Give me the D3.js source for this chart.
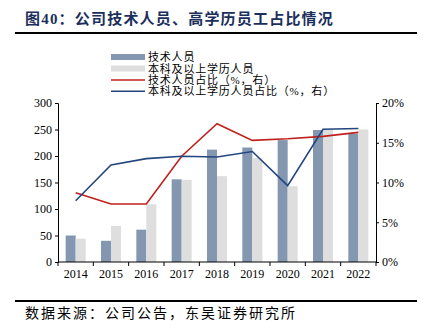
<!DOCTYPE html>
<html><head><meta charset="utf-8">
<script src="https://cdn.jsdelivr.net/npm/d3@7"></script>
<style>body{margin:0;background:#fff}svg{display:block}</style>
</head><body>
<svg id="c" width="424" height="335"></svg>
<script>
const years = ["2014","2015","2016","2017","2018","2019","2020","2021","2022"];
const techStaff = [50, 40, 61, 156, 212, 216, 230, 249, 242];
const bachelorStaff = [44, 68, 109, 155, 162, 196, 143, 250, 250];
const techShare = [8.7, 7.3, 7.3, 13.3, 17.4, 15.3, 15.5, 15.8, 16.3];
const bachelorShare = [7.7, 12.2, 13.0, 13.3, 13.2, 13.9, 9.6, 16.7, 16.8];
const leftTicks = [0, 50, 100, 150, 200, 250, 300];
const rightTicks = [0, 5, 10, 15, 20];
const legendLabels = ["技术人员", "本科及以上学历人员", "技术人员占比（%，右）", "本科及以上学历人员占比（%，右）"];

const serif = "'Liberation Serif','Noto Sans CJK SC',serif";
const svg = d3.select("#c");
const L = 58, R = 376, T = 103, B = 262;

// title
svg.append("text").attr("x", 25).attr("y", 24).attr("font-family", serif)
  .attr("font-weight", "bold").attr("font-size", 15).attr("fill", "#1c2f5c")
  .attr("letter-spacing", 1.2)
  .text("图40：公司技术人员、高学历员工占比情况");
svg.append("line").attr("x1", 15).attr("x2", 417).attr("y1", 33).attr("y2", 33)
  .attr("stroke", "#000").attr("stroke-width", 2);
svg.append("line").attr("x1", 15).attr("x2", 417).attr("y1", 301).attr("y2", 301)
  .attr("stroke", "#000").attr("stroke-width", 2);
svg.append("text").attr("x", 25).attr("y", 318).attr("font-family", serif)
  .attr("font-size", 14).attr("fill", "#000").attr("letter-spacing", 2)
  .text("数据来源：公司公告，东吴证券研究所");

const x = d3.scaleBand().domain(years).range([L, R]).paddingInner(0).paddingOuter(0);
const yL = d3.scaleLinear().domain([0, 300]).range([B, T]);
const yR = d3.scaleLinear().domain([0, 20]).range([B, T]);
const bw = 10;

const g = svg.append("g");
g.selectAll(".b1").data(years).join("rect")
  .attr("x", d => x(d) + x.bandwidth()/2 - bw).attr("width", bw)
  .attr("y", (d,i) => yL(techStaff[i])).attr("height", (d,i) => B - yL(techStaff[i]))
  .attr("fill", "#8497b0");
g.selectAll(".b2").data(years).join("rect")
  .attr("x", d => x(d) + x.bandwidth()/2).attr("width", bw)
  .attr("y", (d,i) => yL(bachelorStaff[i])).attr("height", (d,i) => B - yL(bachelorStaff[i]))
  .attr("fill", "#dedede");

const line = arr => d3.line().x((d,i) => x(years[i]) + x.bandwidth()/2).y(d => yR(d))(arr);
g.append("path").attr("d", line(techShare)).attr("fill", "none").attr("stroke", "#c0201c").attr("stroke-width", 1.6);
g.append("path").attr("d", line(bachelorShare)).attr("fill", "none").attr("stroke", "#23467f").attr("stroke-width", 1.6);

// axes
const axL = d3.axisLeft(yL).tickValues(leftTicks).tickSize(3).tickPadding(3);
const axR = d3.axisRight(yR).tickValues(rightTicks).tickSize(3).tickPadding(3).tickFormat(d => d + "%");
const gl = svg.append("g").attr("transform", `translate(${L},0)`).call(axL);
const gr = svg.append("g").attr("transform", `translate(${R},0)`).call(axR);
const gb = svg.append("g").attr("transform", `translate(0,${B})`);
gb.append("line").attr("x1", L).attr("x2", R).attr("y1", 0).attr("y2", 0).attr("stroke", "#000");
gb.selectAll(".tk").data(d3.range(years.length + 1)).join("line")
  .attr("x1", i => L + i * x.step()).attr("x2", i => L + i * x.step())
  .attr("y1", 0).attr("y2", 4).attr("stroke", "#000");
gb.selectAll(".lb").data(years).join("text")
  .attr("x", d => x(d) + x.bandwidth()/2).attr("y", 16).attr("text-anchor", "middle")
  .attr("font-family", serif).attr("font-size", 12).attr("fill", "#000").text(d => d);
[gl, gr].forEach(a => {
  a.select(".domain").attr("stroke", "#000");
  a.selectAll(".tick line").attr("stroke", "#000");
  a.selectAll("text").attr("font-family", serif).attr("font-size", 12).attr("fill", "#000");
});

// legend
const lg = svg.append("g");
const lx = 111, ly = [57, 68.5, 80, 91.3];
legendLabels.forEach((t, i) => {
  if (i < 2) {
    lg.append("rect").attr("x", lx).attr("y", ly[i] - 3).attr("width", 34).attr("height", 6)
      .attr("fill", i === 0 ? "#8497b0" : "#dedede");
  } else {
    lg.append("line").attr("x1", lx).attr("x2", lx + 34).attr("y1", ly[i]).attr("y2", ly[i])
      .attr("stroke", i === 2 ? "#c0201c" : "#23467f").attr("stroke-width", 1.6);
  }
  lg.append("text").attr("x", 148).attr("y", ly[i] + 4).attr("font-family", serif)
    .attr("font-size", 11).attr("fill", "#000").attr("letter-spacing", 0.8).text(t);
});
</script>
</body></html>
